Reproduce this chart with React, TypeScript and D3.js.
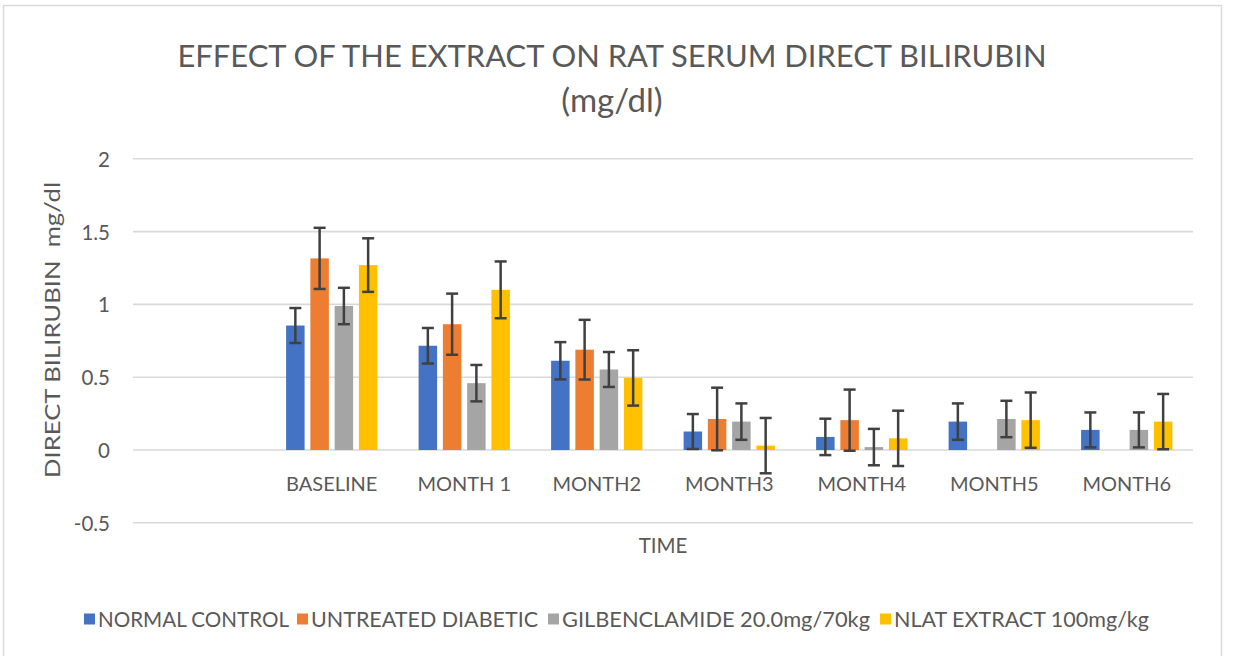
import React, { useEffect, useRef } from "react";
import * as d3 from "d3";

const categories = ["", "BASELINE", "MONTH 1", "MONTH2", "MONTH3", "MONTH4", "MONTH5", "MONTH6"];
const seriesNames = ["NORMAL CONTROL", "UNTREATED DIABETIC", "GILBENCLAMIDE 20.0mg/70kg", "NLAT EXTRACT 100mg/kg"];
const seriesColors = ["#4472C4", "#ED7D31", "#A5A5A5", "#FFC000"];

const normalControl = [null, 0.855, 0.716, 0.613, 0.127, 0.09, 0.195, 0.138];
const normalControlErr = [null, 0.12, 0.122, 0.128, 0.12, 0.125, 0.125, 0.12];
const untreatedDiabetic = [null, 1.316, 0.864, 0.689, 0.213, 0.205, null, null];
const untreatedDiabeticErr = [null, 0.21, 0.21, 0.205, 0.215, 0.21, null, null];
const gilbenclamide = [null, 0.989, 0.459, 0.553, 0.195, 0.02, 0.213, 0.138];
const gilbenclamideErr = [null, 0.125, 0.125, 0.12, 0.125, 0.125, 0.125, 0.12];
const nlatExtract = [null, 1.27, 1.1, 0.495, 0.03, 0.08, 0.205, 0.195];
const nlatExtractErr = [null, 0.184, 0.195, 0.19, 0.19, 0.19, 0.19, 0.19];

const yTicks = [-0.5, 0, 0.5, 1, 1.5, 2];

const W = 1238;
const H = 656;
const FONT = "Lato, 'Open Sans', sans-serif";
const TEXT = "#595959";

export default function App() {
  const ref = useRef<SVGSVGElement>(null);

  useEffect(() => {
    const svg = d3.select(ref.current);
    svg.selectAll("*").remove();

    const values = [normalControl, untreatedDiabetic, gilbenclamide, nlatExtract];
    const errs = [normalControlErr, untreatedDiabeticErr, gilbenclamideErr, nlatExtractErr];

    svg.append("rect").attr("x", 0).attr("y", 0).attr("width", W).attr("height", H).attr("fill", "#fff");
    svg.append("rect")
      .attr("x", 3.5).attr("y", 5.5).attr("width", 1218).attr("height", 700)
      .attr("fill", "#fff").attr("stroke", "#d9d9d9").attr("stroke-width", 1.5);

    const left = 133, right = 1193;
    const x0 = d3.scaleBand<string>().domain(categories.map((c, i) => String(i))).range([left, right]).padding(0);
    const groupW = x0.bandwidth() * 0.689;
    const x1 = d3.scaleBand<string>().domain(seriesNames).range([0, groupW]).paddingInner(0.238).paddingOuter(0);
    const y = d3.scaleLinear().domain([-0.5, 2]).range([522.8, 158.8]);

    // gridlines
    svg.append("g").selectAll("line").data(yTicks).join("line")
      .attr("x1", left).attr("x2", right)
      .attr("y1", (d) => y(d)).attr("y2", (d) => y(d))
      .attr("stroke", "#d9d9d9").attr("stroke-width", 1.6);

    // y tick labels
    svg.append("g").selectAll("text").data(yTicks).join("text")
      .attr("x", 110).attr("y", (d) => y(d))
      .attr("text-anchor", "end").attr("dominant-baseline", "central")
      .attr("font-family", FONT).attr("font-size", 20.5).attr("fill", TEXT)
      .text((d) => String(d));

    // bars
    seriesNames.forEach((name, si) => {
      const g = svg.append("g");
      categories.forEach((c, ci) => {
        const v = values[si][ci];
        if (v == null) return;
        const bx = (x0(String(ci)) as number) + (x0.bandwidth() - groupW) / 2 + (x1(name) as number);
        g.append("rect")
          .attr("x", bx).attr("width", x1.bandwidth())
          .attr("y", y(Math.max(0, v))).attr("height", Math.abs(y(v) - y(0)))
          .attr("fill", seriesColors[si]);
      });
    });

    // error bars
    seriesNames.forEach((name, si) => {
      const g = svg.append("g").attr("stroke", "#404040").attr("stroke-width", 2.5);
      categories.forEach((c, ci) => {
        const v = values[si][ci];
        const e = errs[si][ci];
        if (v == null || e == null) return;
        const cx = (x0(String(ci)) as number) + (x0.bandwidth() - groupW) / 2 + (x1(name) as number) + x1.bandwidth() / 2;
        const yt = y(v + e), yb = y(v - e);
        g.append("line").attr("x1", cx).attr("x2", cx).attr("y1", yt).attr("y2", yb);
        g.append("line").attr("x1", cx - 6).attr("x2", cx + 6).attr("y1", yt).attr("y2", yt);
        g.append("line").attr("x1", cx - 6).attr("x2", cx + 6).attr("y1", yb).attr("y2", yb);
      });
    });

    // x labels
    svg.append("g").selectAll("text").data(categories).join("text")
      .attr("x", (d, i) => (x0(String(i)) as number) + x0.bandwidth() / 2)
      .attr("y", 483).attr("text-anchor", "middle").attr("dominant-baseline", "central")
      .attr("font-family", FONT).attr("font-size", 20).attr("fill", TEXT)
      .text((d) => d);

    // axis titles
    svg.append("text").attr("x", 663).attr("y", 545)
      .attr("text-anchor", "middle").attr("dominant-baseline", "central")
      .attr("font-family", FONT).attr("font-size", 20.5).attr("fill", TEXT).text("TIME");

    svg.append("text")
      .attr("transform", "translate(52,330) rotate(-90)")
      .attr("text-anchor", "middle").attr("dominant-baseline", "central")
      .attr("font-family", FONT).attr("font-size", 21.5).attr("fill", TEXT)
      .attr("textLength", 296).attr("lengthAdjust", "spacingAndGlyphs")
      .style("white-space", "pre")
      .text("DIRECT BILIRUBIN  mg/dl");

    // title
    svg.append("text").attr("x", 612).attr("y", 67).attr("text-anchor", "middle")
      .attr("font-family", FONT).attr("font-size", 31).attr("fill", TEXT)
      .attr("textLength", 869).attr("lengthAdjust", "spacingAndGlyphs")
      .text("EFFECT OF THE EXTRACT ON RAT SERUM DIRECT BILIRUBIN");
    svg.append("text").attr("x", 612).attr("y", 112).attr("text-anchor", "middle")
      .attr("font-family", FONT).attr("font-size", 33).attr("fill", TEXT)
      .text("(mg/dl)");

    // legend
    const lg = svg.append("g");
    const legendSquareX = [84, 297, 548, 880];
    const legendTextW = [191, 227, 308, 255];
    const sq = 11;
    seriesNames.forEach((n, i) => {
      lg.append("rect").attr("x", legendSquareX[i]).attr("y", 619 - sq / 2).attr("width", sq).attr("height", sq)
        .attr("fill", seriesColors[i]);
      lg.append("text").attr("x", legendSquareX[i] + 14).attr("y", 619).attr("dominant-baseline", "central")
        .attr("font-family", FONT).attr("font-size", 20.5).attr("fill", TEXT)
        .attr("textLength", legendTextW[i]).attr("lengthAdjust", "spacingAndGlyphs")
        .text(n);
    });
  }, []);

  return (
    <svg ref={ref} width={W} height={H} style={{ position: "absolute", left: 0, top: 0 }} />
  );
}
